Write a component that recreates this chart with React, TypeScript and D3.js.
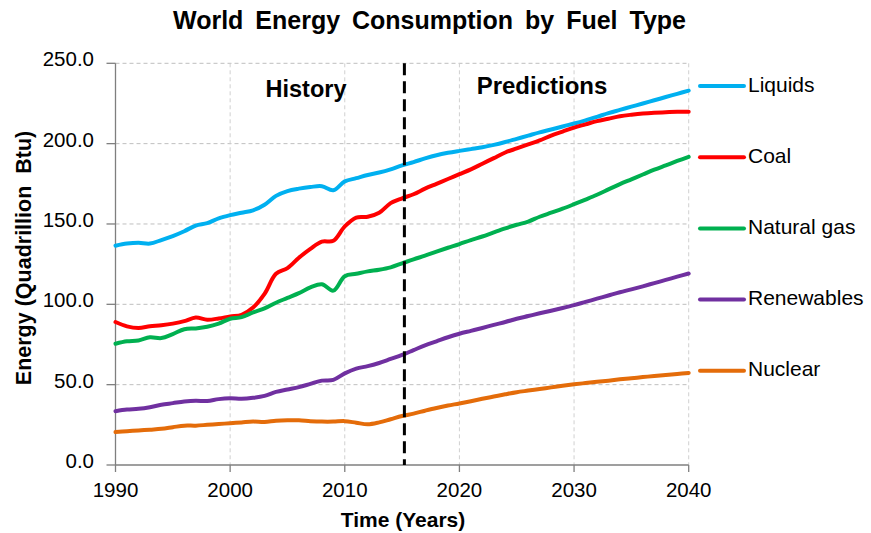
import React from "react";
import * as d3 from "d3";

// Annual world energy consumption by fuel, 1990–2040 (quadrillion Btu)
const years: number[] = d3.range(1990, 2041);

const liquids: number[] = [
  136.5, 137.8, 138.3, 137.8, 140, 142.5, 145.5, 149, 150.5, 153.5,
  155.5, 157, 158.5, 162, 167.5, 170.5, 172, 173, 173.5, 171,
  176.5, 178.5, 180.5, 182, 184, 186.5, 188.5, 190.8, 192.8, 194.3,
  195.5, 196.6, 197.7, 199.2, 201, 203, 205, 207, 208.8, 210.7,
  212.5, 214.5, 216.7, 219, 221, 223, 225, 227, 229, 231,
  233,
];

const coal: number[] = [
  89, 86.3, 85.3, 86.3, 87, 88, 89.5, 91.8, 90.4, 91.2,
  92.5, 93.5, 98, 106.5, 119, 122.5, 129, 134.5, 139, 139.5,
  148.5, 154, 154.5, 157, 163, 166, 168.5, 172, 175, 178,
  181, 184, 187.5, 191, 194.5, 197, 199.5, 202, 205, 207.5,
  210, 212, 214, 215.5, 217, 218, 218.8, 219.3, 219.6, 219.8,
  219.8,
];

const naturalGas: number[] = [
  75.5, 77, 77.5, 79.5, 79, 81.5, 84.5, 85, 86, 88,
  91, 92, 95, 97.5, 101, 104, 107, 110.5, 112.5, 108.5,
  117.5, 119, 120.5, 121.5, 123, 125.5, 128, 130.3, 132.8, 135.2,
  137.5, 140, 142.2, 144.8, 147.3, 149.5, 151.5, 154.5, 157, 159.5,
  162.3, 165.2, 168.2, 171.5, 174.8, 177.8, 180.8, 183.8, 186.5, 189.2,
  191.8,
];

const renewables: number[] = [
  33.5, 34.5, 35, 36, 37.5, 38.5, 39.5, 40, 39.8, 41,
  41.5, 41.2, 41.8, 43, 45.5, 47, 48.5, 50.5, 52.5, 53,
  57, 60, 61.5, 63.5, 66, 68.5, 71.5, 74.5, 77, 79.5,
  81.7, 83.5, 85.3, 87.2, 89, 91, 92.7, 94.4, 96, 97.7,
  99.5, 101.5, 103.5, 105.5, 107.5, 109.3, 111.2, 113.2, 115.2, 117.2,
  119.2,
];

const nuclear: number[] = [
  20.5, 21, 21.5, 22, 22.5, 23.5, 24.5, 24.5, 25, 25.5,
  26, 26.5, 27, 26.8, 27.5, 27.8, 27.8, 27.3, 27, 27,
  27.3, 26.3, 25.3, 26.5, 28.5, 30.5, 32, 33.8, 35.5, 37,
  38.3, 39.7, 41.2, 42.6, 44, 45.3, 46.3, 47.3, 48.3, 49.3,
  50.2, 51, 51.8, 52.5, 53.3, 54, 54.7, 55.4, 56, 56.7,
  57.3,
];

const seriesNames: string[] = ["Liquids", "Coal", "Natural gas", "Renewables", "Nuclear"];
const seriesValues: number[][] = [liquids, coal, naturalGas, renewables, nuclear];
const seriesColors: string[] = ["#00B0F0", "#FF0000", "#00B050", "#7030A0", "#E46C0A"];

const yTicks: number[] = [0, 50, 100, 150, 200, 250];
const xTicks: number[] = [1990, 2000, 2010, 2020, 2030, 2040];

// Boundary between historical data and projections
const splitYear = 2015.2;

const FONT = "'Liberation Sans', Arial, Helvetica, sans-serif";

export default function App() {
  const width = 871;
  const height = 533;
  const left = 115.5;
  const right = 688.7;
  const top = 63.3;
  const bottom = 465;

  const x = d3.scaleLinear().domain([1990, 2040]).range([left, right]);
  const y = d3.scaleLinear().domain([0, 250]).range([bottom, top]);

  const line = d3
    .line<number>()
    .x((_, i) => x(years[i]))
    .y((d) => y(d))
    .curve(d3.curveCatmullRom.alpha(0.5));

  const legendY = (i: number) => 86 + i * 71.2;

  return (
    <svg
      width={width}
      height={height}
      style={{ position: "absolute", left: 0, top: 0, display: "block", background: "#fff" }}
      fontFamily={FONT}
    >
      <rect x={0} y={0} width={width} height={height} fill="#fff" />

      {/* Title */}
      <text
        x={429.5}
        y={28.5}
        textAnchor="middle"
        fontSize={25}
        fontWeight="bold"
        wordSpacing={5}
        fill="#000"
      >
        World Energy Consumption by Fuel Type
      </text>

      {/* Gridlines */}
      {yTicks
        .filter((t) => t > 0)
        .map((t) => (
          <line
            key={"gy" + t}
            x1={left}
            x2={right}
            y1={y(t)}
            y2={y(t)}
            stroke="#BFBFBF"
            strokeWidth={1}
            strokeDasharray="4,3"
          />
        ))}
      {xTicks
        .filter((t) => t > 1990)
        .map((t) => (
          <line
            key={"gx" + t}
            x1={x(t)}
            x2={x(t)}
            y1={top}
            y2={bottom}
            stroke="#D0D0D0"
            strokeWidth={1}
            strokeDasharray="4,3"
          />
        ))}

      {/* Axes */}
      <line x1={left} x2={left} y1={top} y2={bottom} stroke="#7F7F7F" strokeWidth={1.3} />
      <line x1={left} x2={right} y1={bottom} y2={bottom} stroke="#7F7F7F" strokeWidth={1.3} />
      {yTicks.map((t) => (
        <g key={"yt" + t}>
          <line x1={left - 9} x2={left} y1={y(t)} y2={y(t)} stroke="#7F7F7F" strokeWidth={1.3} />
          <text x={94} y={y(t) - 2.5} textAnchor="end" dominantBaseline="middle" fontSize={20.5} fill="#000">
            {t.toFixed(1)}
          </text>
        </g>
      ))}
      {xTicks.map((t) => (
        <g key={"xt" + t}>
          <line x1={x(t)} x2={x(t)} y1={bottom} y2={bottom + 7} stroke="#7F7F7F" strokeWidth={1.3} />
          <text x={x(t)} y={497} textAnchor="middle" fontSize={20.5} fill="#000">
            {t}
          </text>
        </g>
      ))}

      {/* Axis titles */}
      <text x={403} y={527} textAnchor="middle" fontSize={21} fontWeight="bold" fill="#000">
        Time (Years)
      </text>
      <text
        transform={`translate(31,258) rotate(-90)`}
        textAnchor="middle"
        fontSize={21.5}
        fontWeight="bold"
        fill="#000"
        style={{ whiteSpace: "pre" }}
      >
        {"Energy (Quadrillion  Btu)"}
      </text>

      {/* Series */}
      {seriesValues.map((vals, i) => (
        <path
          key={seriesNames[i]}
          d={line(vals) ?? ""}
          fill="none"
          stroke={seriesColors[i]}
          strokeWidth={4}
          strokeLinejoin="round"
          strokeLinecap="round"
        />
      ))}

      {/* History / projection divider */}
      <line
        x1={x(splitYear)}
        x2={x(splitYear)}
        y1={top}
        y2={bottom}
        stroke="#000"
        strokeWidth={3}
        strokeDasharray="12,6"
      />
      <text x={306} y={97} textAnchor="middle" fontSize={23.5} fontWeight="bold" fill="#000">
        History
      </text>
      <text x={542} y={94} textAnchor="middle" fontSize={24} fontWeight="bold" fill="#000">
        Predictions
      </text>

      {/* Legend */}
      {seriesNames.map((name, i) => (
        <g key={"lg" + name}>
          <line
            x1={700}
            x2={744}
            y1={legendY(i)}
            y2={legendY(i)}
            stroke={seriesColors[i]}
            strokeWidth={4}
            strokeLinecap="round"
          />
          <text x={748} y={legendY(i)} dominantBaseline="middle" fontSize={21} fill="#000">
            {name}
          </text>
        </g>
      ))}
    </svg>
  );
}
